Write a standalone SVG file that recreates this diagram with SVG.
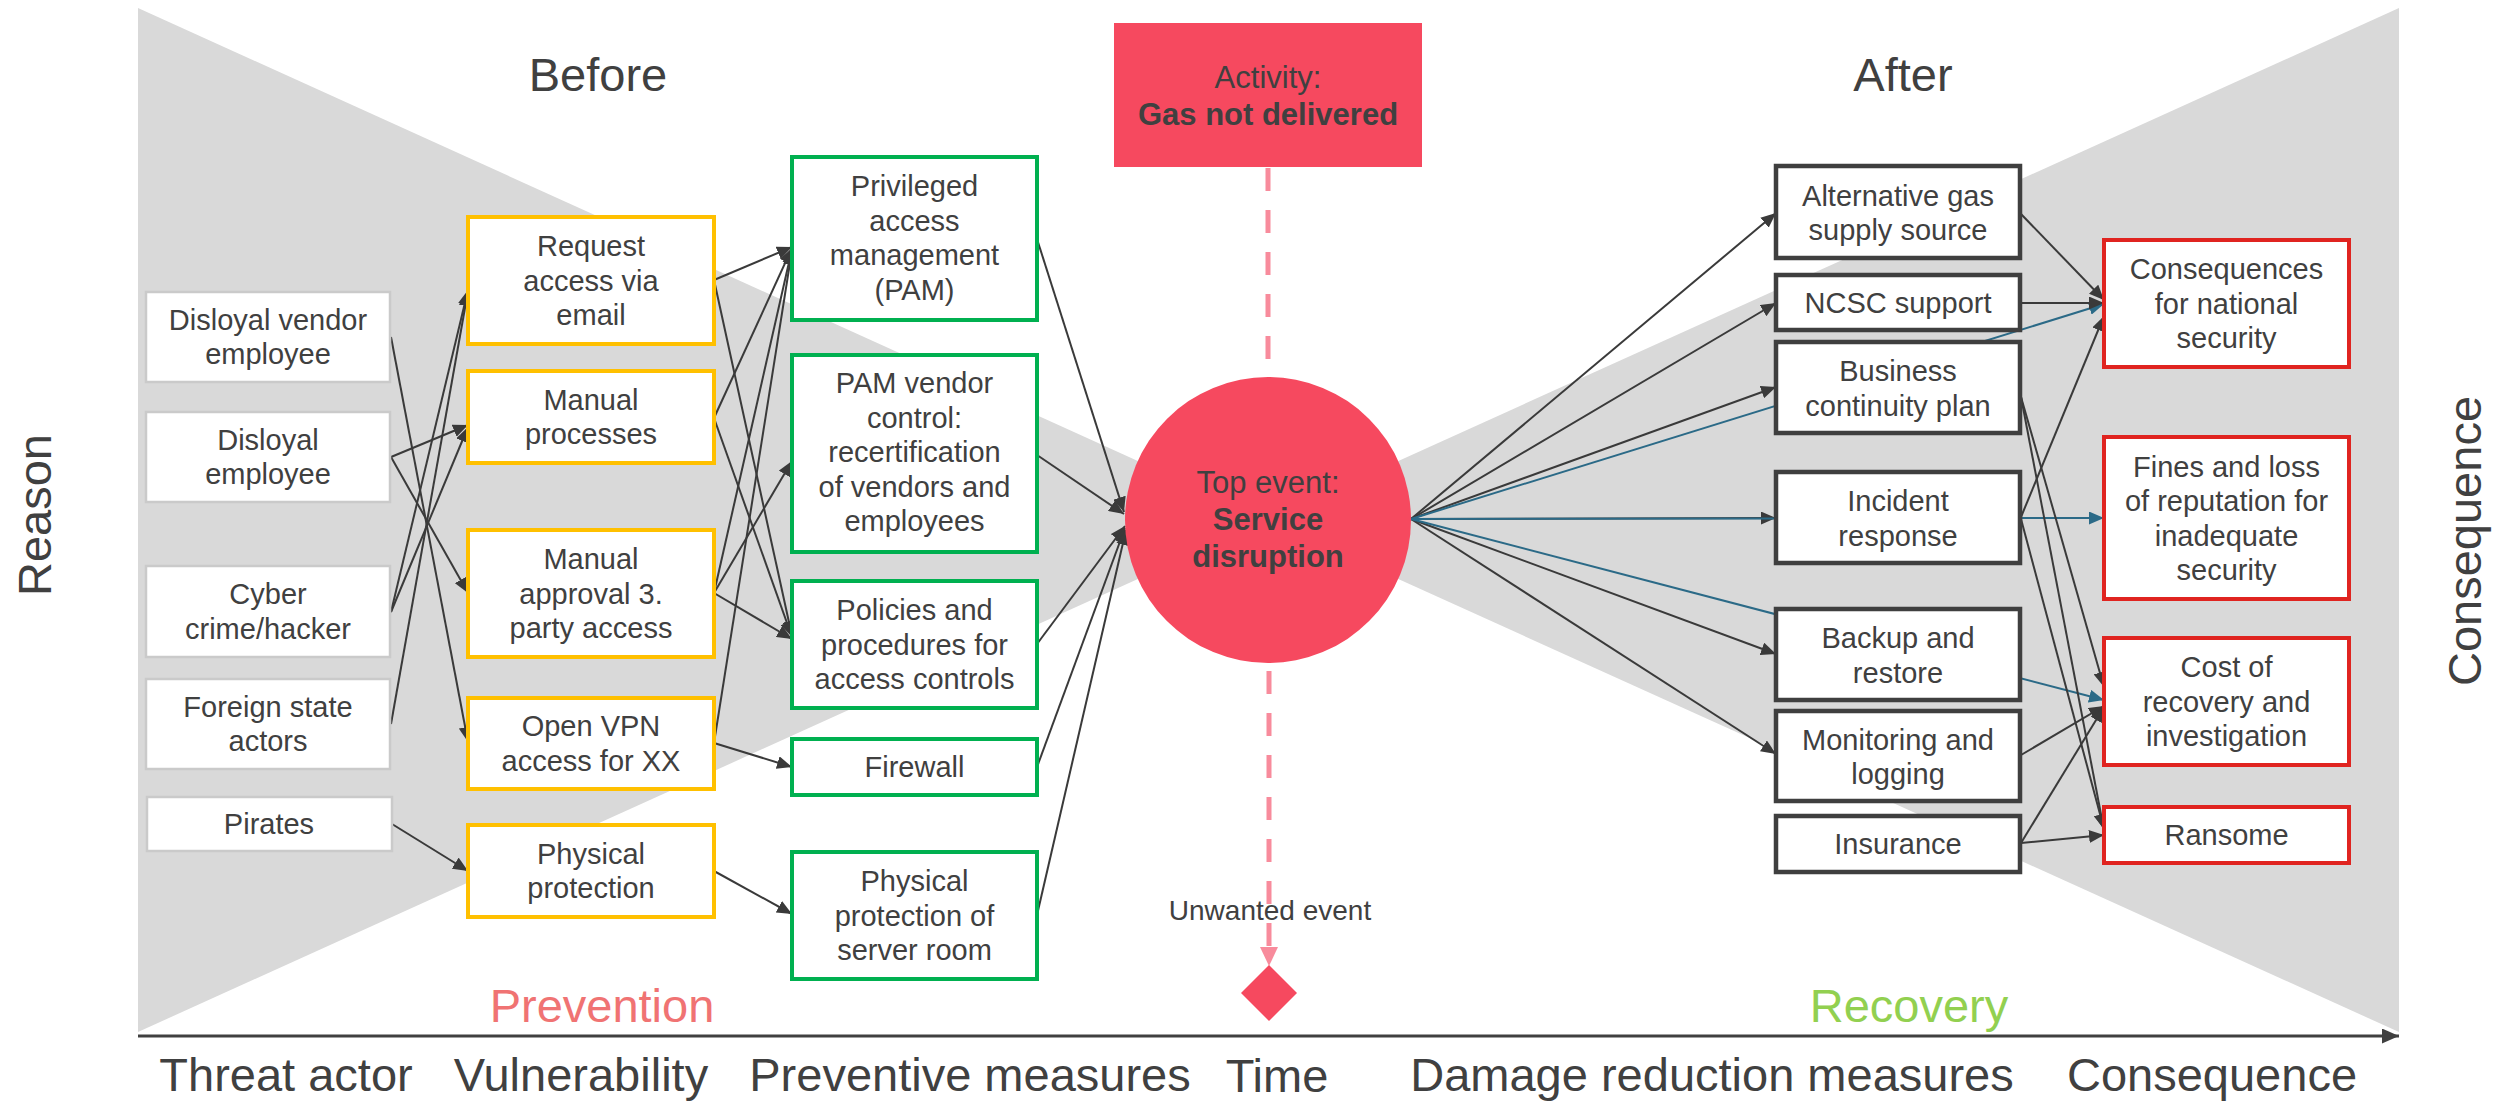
<svg xmlns="http://www.w3.org/2000/svg" width="2509" height="1103" viewBox="0 0 2509 1103">
<defs>
<style>
.t{font-family:"Liberation Sans",Arial,sans-serif;fill:#404040;font-size:29px;text-anchor:middle}
.big{font-size:47px}
.thr rect{fill:#fff;stroke:#cacaca;stroke-width:2.5}
.vul rect{fill:#fff;stroke:#ffc000;stroke-width:4}
.pre rect{fill:#fff;stroke:#00b050;stroke-width:4}
.dmg rect{fill:#fff;stroke:#3f3f3f;stroke-width:4.5}
.con rect{fill:#fff;stroke:#e02420;stroke-width:4}
.c line{stroke:#3a3a3a;stroke-width:2;fill:none;marker-end:url(#ah)}
.c line.tl{stroke:#2b6a87;marker-end:url(#aht)}
.dash{stroke:#f88b9c;stroke-width:5;stroke-dasharray:23 19;fill:none}
</style>
<marker id="ah" markerUnits="userSpaceOnUse" markerWidth="15" markerHeight="13" refX="15" refY="6.5" orient="auto">
<path d="M0,0 L15,6.5 L0,13 z" fill="#3a3a3a"/>
</marker>
<marker id="aht" markerUnits="userSpaceOnUse" markerWidth="15" markerHeight="13" refX="15" refY="6.5" orient="auto">
<path d="M0,0 L15,6.5 L0,13 z" fill="#2b6a87"/>
</marker>
<marker id="axis" markerUnits="userSpaceOnUse" markerWidth="17" markerHeight="15" refX="17" refY="7.5" orient="auto">
<path d="M0,0 L17,7.5 L0,15 z" fill="#404040"/>
</marker>
</defs>

<g id="background">
<polygon points="138,8 138,1032 1268,520" fill="#d9d9d9"/>
<polygon points="2399,8 2399,1032 1268,520" fill="#d9d9d9"/>
<line x1="138" y1="1036" x2="2399" y2="1036" stroke="#404040" stroke-width="3" marker-end="url(#axis)"/>
</g>

<g id="labels">
<text class="t big" x="598" y="91">Before</text>
<text class="t big" x="1903" y="91">After</text>
<text class="t big" x="602" y="1022" style="fill:#f07373">Prevention</text>
<text class="t big" x="1909" y="1022" style="fill:#92d050">Recovery</text>
<text class="t big" x="286" y="1091">Threat actor</text>
<text class="t big" x="581" y="1091">Vulnerability</text>
<text class="t big" x="970" y="1091">Preventive measures</text>
<text class="t big" x="1277" y="1092">Time</text>
<text class="t big" x="1712" y="1091">Damage reduction measures</text>
<text class="t big" x="2212" y="1091">Consequence</text>
<text class="t big" transform="translate(51,515) rotate(-90)">Reason</text>
<text class="t big" transform="translate(2481,541) rotate(-90)">Consequence</text>
</g>

<g id="connectors" class="c">
<line x1="391" y1="337" x2="468" y2="742"/>
<line x1="391" y1="457" x2="468" y2="425"/>
<line x1="391" y1="457" x2="468" y2="593"/>
<line x1="391" y1="612" x2="468" y2="290"/>
<line x1="391" y1="612" x2="468" y2="427"/>
<line x1="391" y1="724" x2="468" y2="291"/>
<line x1="392" y1="824" x2="468" y2="871"/>

<line x1="714" y1="280" x2="792" y2="247"/>
<line x1="714" y1="280" x2="792" y2="636"/>
<line x1="714" y1="418" x2="792" y2="248"/>
<line x1="714" y1="418" x2="792" y2="637"/>
<line x1="714" y1="593" x2="792" y2="249"/>
<line x1="714" y1="593" x2="792" y2="461"/>
<line x1="714" y1="593" x2="792" y2="639"/>
<line x1="714" y1="743" x2="792" y2="250"/>
<line x1="714" y1="743" x2="792" y2="767"/>
<line x1="714" y1="871" x2="792" y2="914"/>

<line x1="1037" y1="239" x2="1124" y2="512"/>
<line x1="1037" y1="455" x2="1124" y2="514"/>
<line x1="1037" y1="644" x2="1125" y2="526"/>
<line x1="1037" y1="767" x2="1125" y2="528"/>
<line x1="1037" y1="915" x2="1126" y2="530"/>

<line x1="1411" y1="519" x2="1776" y2="213"/>
<line x1="1411" y1="519" x2="1776" y2="303"/>
<line x1="1411" y1="519" x2="1776" y2="387"/>
<line x1="1411" y1="519" x2="1776" y2="518"/>
<line x1="1411" y1="519" x2="1776" y2="654"/>
<line x1="1411" y1="519" x2="1776" y2="754"/>
<line class="tl" x1="1411" y1="519" x2="2104" y2="304"/>
<line class="tl" x1="1411" y1="519" x2="2104" y2="518"/>
<line class="tl" x1="1411" y1="519" x2="2104" y2="700"/>

<line x1="2021" y1="214" x2="2104" y2="300"/>
<line x1="2021" y1="303" x2="2104" y2="303"/>
<line x1="2021" y1="517" x2="2104" y2="316"/>
<line x1="2021" y1="397" x2="2104" y2="830"/>
<line x1="2021" y1="397" x2="2104" y2="687"/>
<line x1="2021" y1="519" x2="2104" y2="829"/>
<line x1="2021" y1="755" x2="2104" y2="706"/>
<line x1="2021" y1="843" x2="2104" y2="707"/>
<line x1="2021" y1="843" x2="2104" y2="835"/>
</g>

<g id="activity">
<rect x="1114" y="23" width="308" height="144" fill="#f6495f"/>
<text class="t" x="1268" y="88" style="font-size:31px">Activity:</text>
<text class="t" x="1268" y="125" style="font-size:31px;font-weight:bold">Gas not delivered</text>
</g>

<g id="timeline">
<line class="dash" x1="1268" y1="168" x2="1268" y2="377"/>
<line class="dash" x1="1269" y1="671" x2="1269" y2="947"/>
<polygon points="1260,947 1278,947 1269,966" fill="#f88b9c"/>
<text class="t" x="1270" y="920" style="font-size:28px">Unwanted event</text>
</g>

<g id="unwanted-event">
<polygon points="1269,965 1297,993 1269,1021 1241,993" fill="#f6495f"/>
</g>

<g id="top-event">
<circle cx="1268" cy="520" r="143" fill="#f6495f"/>
<text class="t" style="font-size:31px"><tspan x="1268" y="493">Top event:</tspan><tspan x="1268" y="530" font-weight="bold">Service</tspan><tspan x="1268" y="567" font-weight="bold">disruption</tspan></text>
</g>

<g id="threat-1" class="thr"><rect x="146" y="292" width="244" height="90"/><text class="t"><tspan x="268" y="330">Disloyal vendor</tspan><tspan x="268" y="364">employee</tspan></text></g>
<g id="threat-2" class="thr"><rect x="146" y="412" width="244" height="90"/><text class="t"><tspan x="268" y="450">Disloyal</tspan><tspan x="268" y="484">employee</tspan></text></g>
<g id="threat-3" class="thr"><rect x="146" y="566" width="244" height="91"/><text class="t"><tspan x="268" y="604">Cyber</tspan><tspan x="268" y="639">crime/hacker</tspan></text></g>
<g id="threat-4" class="thr"><rect x="146" y="679" width="244" height="90"/><text class="t"><tspan x="268" y="717">Foreign state</tspan><tspan x="268" y="751">actors</tspan></text></g>
<g id="threat-5" class="thr"><rect x="147" y="797" width="245" height="54"/><text class="t" x="269" y="834">Pirates</text></g>

<g id="vuln-1" class="vul"><rect x="468" y="217" width="246" height="127"/><text class="t"><tspan x="591" y="256">Request</tspan><tspan x="591" y="290.5">access via</tspan><tspan x="591" y="325">email</tspan></text></g>
<g id="vuln-2" class="vul"><rect x="468" y="371" width="246" height="92"/><text class="t"><tspan x="591" y="410">Manual</tspan><tspan x="591" y="444">processes</tspan></text></g>
<g id="vuln-3" class="vul"><rect x="468" y="530" width="246" height="127"/><text class="t"><tspan x="591" y="569">Manual</tspan><tspan x="591" y="603.5">approval 3.</tspan><tspan x="591" y="638">party access</tspan></text></g>
<g id="vuln-4" class="vul"><rect x="468" y="698" width="246" height="91"/><text class="t"><tspan x="591" y="736">Open VPN</tspan><tspan x="591" y="770.5">access for XX</tspan></text></g>
<g id="vuln-5" class="vul"><rect x="468" y="825" width="246" height="92"/><text class="t"><tspan x="591" y="864">Physical</tspan><tspan x="591" y="898">protection</tspan></text></g>

<g id="prev-1" class="pre"><rect x="792" y="157" width="245" height="163"/><text class="t"><tspan x="914.5" y="196">Privileged</tspan><tspan x="914.5" y="230.5">access</tspan><tspan x="914.5" y="265">management</tspan><tspan x="914.5" y="299.5">(PAM)</tspan></text></g>
<g id="prev-2" class="pre"><rect x="792" y="355" width="245" height="197"/><text class="t"><tspan x="914.5" y="393">PAM vendor</tspan><tspan x="914.5" y="427.5">control:</tspan><tspan x="914.5" y="462">recertification</tspan><tspan x="914.5" y="496.5">of vendors and</tspan><tspan x="914.5" y="531">employees</tspan></text></g>
<g id="prev-3" class="pre"><rect x="792" y="581" width="245" height="127"/><text class="t"><tspan x="914.5" y="620">Policies and</tspan><tspan x="914.5" y="654.5">procedures for</tspan><tspan x="914.5" y="689">access controls</tspan></text></g>
<g id="prev-4" class="pre"><rect x="792" y="739" width="245" height="56"/><text class="t" x="914.5" y="777">Firewall</text></g>
<g id="prev-5" class="pre"><rect x="792" y="852" width="245" height="127"/><text class="t"><tspan x="914.5" y="891">Physical</tspan><tspan x="914.5" y="925.5">protection of</tspan><tspan x="914.5" y="960">server room</tspan></text></g>

<g id="dmg-1" class="dmg"><rect x="1776" y="166" width="244" height="92"/><text class="t"><tspan x="1898" y="205.5">Alternative gas</tspan><tspan x="1898" y="240">supply source</tspan></text></g>
<g id="dmg-2" class="dmg"><rect x="1776" y="275" width="244" height="55"/><text class="t" x="1898" y="312.5">NCSC support</text></g>
<g id="dmg-3" class="dmg"><rect x="1776" y="342" width="244" height="91"/><text class="t"><tspan x="1898" y="381">Business</tspan><tspan x="1898" y="415.5">continuity plan</tspan></text></g>
<g id="dmg-4" class="dmg"><rect x="1776" y="472" width="244" height="91"/><text class="t"><tspan x="1898" y="511">Incident</tspan><tspan x="1898" y="545.5">response</tspan></text></g>
<g id="dmg-5" class="dmg"><rect x="1776" y="609" width="244" height="91"/><text class="t"><tspan x="1898" y="648">Backup and</tspan><tspan x="1898" y="682.5">restore</tspan></text></g>
<g id="dmg-6" class="dmg"><rect x="1776" y="711" width="244" height="90"/><text class="t"><tspan x="1898" y="749.5">Monitoring and</tspan><tspan x="1898" y="784">logging</tspan></text></g>
<g id="dmg-7" class="dmg"><rect x="1776" y="816" width="244" height="56"/><text class="t" x="1898" y="854">Insurance</text></g>

<g id="con-1" class="con"><rect x="2104" y="240" width="245" height="127"/><text class="t"><tspan x="2226.5" y="279">Consequences</tspan><tspan x="2226.5" y="313.5">for national</tspan><tspan x="2226.5" y="348">security</tspan></text></g>
<g id="con-2" class="con"><rect x="2104" y="437" width="245" height="162"/><text class="t"><tspan x="2226.5" y="476.5">Fines and loss</tspan><tspan x="2226.5" y="511">of reputation for</tspan><tspan x="2226.5" y="545.5">inadequate</tspan><tspan x="2226.5" y="580">security</tspan></text></g>
<g id="con-3" class="con"><rect x="2104" y="638" width="245" height="127"/><text class="t"><tspan x="2226.5" y="677">Cost of</tspan><tspan x="2226.5" y="711.5">recovery and</tspan><tspan x="2226.5" y="746">investigation</tspan></text></g>
<g id="con-4" class="con"><rect x="2104" y="807" width="245" height="56"/><text class="t" x="2226.5" y="845">Ransome</text></g>
</svg>
